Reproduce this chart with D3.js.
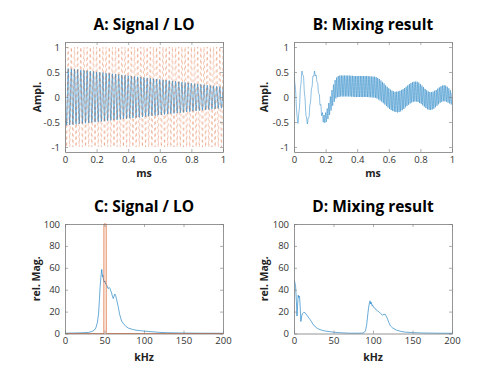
<!DOCTYPE html>
<html><head><meta charset="utf-8">
<script src="https://cdn.jsdelivr.net/npm/d3@7"></script>
<style>
body{margin:0;background:#fff;}
svg{display:block;font-family:"Open Sans","Noto Sans",sans-serif;}
</style></head><body>
<svg id="c" width="500" height="375"></svg>
<script>
// ---- Data ----
// A: signal extremes (every 0.01 ms) and LO extremes
const signalPeaks = [0.58,-0.567,0.572,-0.56,0.565,-0.553,0.557,-0.546,0.55,-0.539,0.542,-0.532,0.534,-0.525,0.527,-0.518,0.519,-0.511,0.512,-0.504,0.504,-0.497,0.496,-0.49,0.489,-0.483,0.481,-0.476,0.474,-0.469,0.466,-0.462,0.458,-0.455,0.451,-0.448,0.443,-0.441,0.436,-0.434,0.428,-0.427,0.42,-0.42,0.413,-0.413,0.405,-0.406,0.398,-0.399,0.39,-0.392,0.382,-0.385,0.375,-0.378,0.367,-0.371,0.36,-0.364,0.352,-0.357,0.344,-0.35,0.337,-0.343,0.329,-0.336,0.322,-0.329,0.314,-0.322,0.306,-0.315,0.299,-0.308,0.291,-0.301,0.284,-0.294,0.276,-0.287,0.268,-0.28,0.261,-0.273,0.253,-0.266,0.246,-0.259,0.238,-0.252,0.23,-0.245,0.223,-0.238,0.215,-0.231,0.208,-0.224,0.2];
const loPeaks = [1,-1,1,-1,1,-1,1,-1,1,-1,1,-1,1,-1,1,-1,1,-1,1,-1,1,-1,1,-1,1,-1,1,-1,1,-1,1,-1,1,-1,1,-1,1,-1,1,-1,1,-1,1,-1,1,-1,1,-1,1,-1,1,-1,1,-1,1,-1,1,-1,1,-1,1,-1,1,-1,1,-1,1,-1,1,-1,1,-1,1,-1,1,-1,1,-1,1,-1,1,-1,1,-1,1,-1,1,-1,1,-1,1,-1,1,-1,1,-1,1,-1,1,-1,1];
// B: mixing result extremes (every 0.005 ms)
const mixPeaks = [0.46,0.28,0.15,-0.2,-0.4,-0.53,-0.33,-0.19,0.15,0.29,0.52,0.45,0.41,0.12,-0.04,-0.34,-0.42,-0.54,-0.42,-0.41,-0.18,-0.09,0.15,0.22,0.42,0.42,0.52,0.42,0.44,0.3,0.28,0.075,0.06,-0.165,-0.15,-0.375,-0.31,-0.505,-0.36,-0.52,-0.31,-0.5,-0.23,-0.44,-0.12,-0.36,0.01,-0.27,0.14,-0.175,0.25,-0.095,0.34,-0.03,0.39,-0.005,0.42,0.0,0.43,0.01,0.43,0.01,0.43,0.01,0.43,0.01,0.43,0.01,0.43,0.01,0.43,0.01,0.425,0.005,0.425,0.005,0.42,0.0,0.42,0.0,0.42,0.0,0.42,0.0,0.42,0.0,0.42,0.0,0.42,0.0,0.42,0.0,0.42,0.0,0.415,-0.005,0.415,-0.005,0.41,-0.01,0.41,-0.011,0.407,-0.017,0.397,-0.03,0.381,-0.049,0.36,-0.072,0.33,-0.094,0.301,-0.124,0.271,-0.15,0.234,-0.181,0.204,-0.211,0.175,-0.238,0.15,-0.261,0.129,-0.28,0.113,-0.293,0.103,-0.299,0.11,-0.309,0.114,-0.302,0.124,-0.288,0.141,-0.264,0.157,-0.24,0.178,-0.209,0.205,-0.181,0.232,-0.155,0.258,-0.131,0.279,-0.112,0.296,-0.098,0.306,-0.091,0.31,-0.091,0.305,-0.101,0.29,-0.121,0.257,-0.137,0.228,-0.167,0.197,-0.193,0.162,-0.222,0.136,-0.245,0.111,-0.255,0.101,-0.26,0.096,-0.25,0.107,-0.235,0.126,-0.207,0.141,-0.175,0.17,-0.146,0.192,-0.116,0.215,-0.097,0.23,-0.086,0.235,-0.087,0.228,-0.095,0.205,-0.113,0.174,-0.13,0.135,-0.15,0.085];
// C: spectrum of signal and LO
const specSigFreq = [0,10,20,30,34,37,39,41,42.5,43.5,44.5,45.5,46.5,47,47.5,48,48.5,49.5,50.5,51.5,53,54.5,56,57,58,59,60,61,62,63,64,65,66,67.5,69,70.5,72,74,77,80,85,90,95,100,110,120,130,150,170,200];
const specSigMag  = [0.3,0.4,0.6,1,1.8,3,5,10,18,30,43,52,58.5,55,52,53,50,47,48,45,44,41,42,41,39,37,34,32,34,36,35,32,29,24,18,14,11,9,6.5,5,3.8,3,2.6,2.2,1.6,1,0.7,0.4,0.3,0.2];
const specLoFreq = [0,49.2,49.3,52.1,52.2,200];
const specLoMag  = [0,0,100,100,0,0];
// D: spectrum of mixing result
const specMixFreq = [0,1,2,3,3.8,4.5,5.3,6,7,7.8,8.7,9.5,10.5,12,14,16,18,20,22,24,27,30,33,37,42,50,60,70,80,87,89,90.5,92,93.5,94.5,95.5,96.2,97,97.8,98.6,99.5,100.5,102,104,106,108,110,112,114,115.5,117,118.5,120,122,125,130,135,140,150,160,180,200];
const specMixMag  = [48.8,47,43,30,16,25,35,33,34,25,11,15,18,19,19,17,15,13,11,8.5,6,4.5,3.5,2.6,2,1.2,0.6,0.3,0.3,0.4,1,2.5,8,18,24,28,29.8,27,28.5,25.5,26,24,23.5,21.5,20.5,19.5,18,16.8,17.5,17.5,15.5,13,10,7,5,3,2,1.3,0.8,0.5,0.3,0.2];
// ticks
const timeTicks = [0,0.2,0.4,0.6,0.8,1];
const timeTickLabels = ["0","0.2","0.4","0.6","0.8","1"];
const amplTicks = [-1,-0.5,0,0.5,1];
const amplTickLabels = ["-1","-0.5","0","0.5","1"];
const freqTicks = [0,50,100,150,200];
const freqTickLabels = ["0","50","100","150","200"];
const magTicks = [0,20,40,60,80,100];
const magTickLabels = ["0","20","40","60","80","100"];
const titles = ["A: Signal / LO","B: Mixing result","C: Signal / LO","D: Mixing result"];

const BLUE = "#0072BD", RED = "#D95319";
const svg = d3.select("#c");

function panel(opt){
  const x = d3.scaleLinear().domain(opt.xd).range([opt.x0, opt.x1]);
  const y = d3.scaleLinear().domain(opt.yd).range([opt.y1, opt.y0]);
  const g = svg.append("g");
  const id = "clip" + opt.id;
  svg.append("clipPath").attr("id", id).append("rect")
    .attr("x", opt.x0).attr("y", opt.y0-1).attr("width", opt.x1-opt.x0).attr("height", opt.y1-opt.y0+2);
  const pg = g.append("g").attr("clip-path", `url(#${id})`);
  opt.series.forEach(s => {
    const line = d3.line().x(d=>x(d[0])).y(d=>y(d[1])).curve(s.curve || d3.curveLinear);
    pg.append("path").datum(s.data).attr("d", line).attr("fill","none")
      .attr("stroke", s.color).attr("stroke-width", s.w)
      .attr("stroke-opacity", s.op || 1)
      .attr("stroke-dasharray", s.dash || null);
  });
  const ax = g.append("g").attr("transform",`translate(0,${opt.y1})`)
    .call(d3.axisBottom(x).tickValues(opt.xt).tickFormat((d,i)=>opt.xtl[i]).tickSizeInner(-3).tickSizeOuter(0).tickPadding(4));
  const ay = g.append("g").attr("transform",`translate(${opt.x0},0)`)
    .call(d3.axisLeft(y).tickValues(opt.yt).tickFormat((d,i)=>opt.ytl[i]).tickSizeInner(-3).tickSizeOuter(0).tickPadding(5));
  const at = g.append("g").attr("transform",`translate(0,${opt.y0})`)
    .call(d3.axisTop(x).tickValues(opt.xt).tickFormat("").tickSizeInner(-3).tickSizeOuter(0));
  const ar = g.append("g").attr("transform",`translate(${opt.x1},0)`)
    .call(d3.axisRight(y).tickValues(opt.yt).tickFormat("").tickSizeInner(-3).tickSizeOuter(0));
  [ax,ay,at,ar].forEach(a=>{
    a.selectAll("path.domain").attr("stroke","#7a7a7a").attr("stroke-width",0.8);
    a.selectAll(".tick line").attr("stroke","#7a7a7a").attr("stroke-width",0.6);
    a.selectAll("text").attr("fill","#333").attr("font-size","9.5px").attr("font-family",'"Open Sans",sans-serif');
  });
  const cx = (opt.x0+opt.x1)/2, cy=(opt.y0+opt.y1)/2;
  g.append("text").attr("x",cx).attr("y",opt.y0-12).attr("text-anchor","middle")
    .attr("font-size","15.5px").attr("font-weight","bold").attr("fill","#000").text(opt.title);
  g.append("text").attr("x",cx).attr("y",opt.y1+opt.xlOff).attr("text-anchor","middle")
    .attr("font-size","10.5px").attr("font-weight","bold").attr("fill","#222").text(opt.xl);
  g.append("text").attr("transform",`translate(${opt.x0-opt.ylOff},${cy}) rotate(-90)`).attr("text-anchor","middle")
    .attr("font-size","10.5px").attr("font-weight","bold").attr("fill","#222").text(opt.yl);
}

const tA = signalPeaks.map((v,i)=>[i/(signalPeaks.length-1), v]);
const tLO = loPeaks.map((v,i)=>[i/(loPeaks.length-1), v]);
const tB = mixPeaks.map((v,i)=>[i/(mixPeaks.length-1), v]);
const zip = (a,b)=>a.map((v,i)=>[v,b[i]]);

panel({id:"A", x0:65, x1:223, y0:42, y1:152, xd:[0,1], yd:[-1.1,1.1],
  xt:timeTicks, xtl:timeTickLabels, yt:amplTicks, ytl:amplTickLabels,
  title:titles[0], xl:"ms", yl:"Ampl.", ylOff:24, xlOff:25,
  series:[{data:tA,color:BLUE,w:0.55,curve:d3.curveMonotoneX},
          {data:tLO,color:RED,w:0.5,op:0.65,dash:"3,3",curve:d3.curveMonotoneX}]});
panel({id:"B", x0:294, x1:452, y0:42, y1:152, xd:[0,1], yd:[-1.1,1.1],
  xt:timeTicks, xtl:timeTickLabels, yt:amplTicks, ytl:amplTickLabels,
  title:titles[1], xl:"ms", yl:"Ampl.", ylOff:26, xlOff:25,
  series:[{data:tB,color:BLUE,w:0.5,op:0.9,curve:d3.curveMonotoneX}]});
panel({id:"C", x0:65, x1:223, y0:224, y1:333.5, xd:[0,200], yd:[0,100],
  xt:freqTicks, xtl:freqTickLabels, yt:magTicks, ytl:magTickLabels,
  title:titles[2], xl:"kHz", yl:"rel. Mag.", ylOff:25, xlOff:27,
  series:[{data:zip(specSigFreq,specSigMag),color:BLUE,w:0.7,op:0.85},
          {data:zip(specLoFreq,specLoMag),color:RED,w:0.7}]});
panel({id:"D", x0:294, x1:452, y0:224, y1:333.5, xd:[0,200], yd:[0,100],
  xt:freqTicks, xtl:freqTickLabels, yt:magTicks, ytl:magTickLabels,
  title:titles[3], xl:"kHz", yl:"rel. Mag.", ylOff:26, xlOff:27,
  series:[{data:zip(specMixFreq,specMixMag),color:BLUE,w:0.7,op:0.85}]});
</script>
</body></html>
